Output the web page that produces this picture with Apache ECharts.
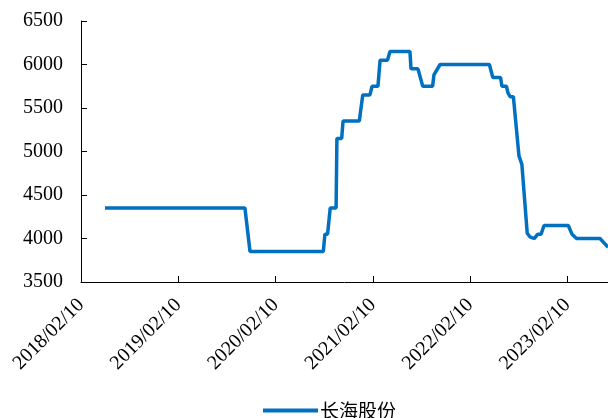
<!DOCTYPE html>
<html>
<head>
<meta charset="utf-8">
<script src="https://cdn.jsdelivr.net/npm/echarts@6/dist/echarts.min.js"></script>
<style>
  html, body { margin: 0; padding: 0; background: #fff; }
  #chart { width: 608px; height: 418px; }
</style>
</head>
<body>
<div id="chart"></div>
<script>
// days counted from 2018/02/10
const days = [90, 615, 634, 909, 915, 925, 935, 957, 960, 978, 983, 1044, 1057, 1084, 1092, 1114, 1122, 1150, 1159, 1234,
  1238, 1264, 1282, 1319, 1324, 1347, 1532, 1545, 1574, 1579, 1596, 1602, 1610, 1622, 1643, 1654, 1674, 1684, 1700,
  1714, 1726, 1737, 1828, 1842, 1859, 1947, 1962, 1977]
const prices = [4350, 4350, 3850, 3850, 4050, 4050, 4350, 4350, 5150, 5150, 5350, 5350, 5650, 5650, 5750, 5750, 6050, 6050, 6150, 6150,
  5950, 5950, 5750, 5750, 5880, 6000, 6000, 5850, 5850, 5750, 5750, 5670, 5630, 5630, 4950, 4850, 4060, 4020, 4000,
  4050, 4050, 4150, 4150, 4050, 4000, 4000, 3950, 3900]
const tickDays = [0, 365, 730, 1095, 1460, 1825]
const tickLabels = ['2018/02/10', '2019/02/10', '2020/02/10', '2021/02/10', '2022/02/10', '2023/02/10']
const seriesName = '长海股份'

const chart = echarts.init(document.getElementById('chart'))
const axisColor = '#000'
const labelFont = { fontFamily: 'Liberation Serif', fontSize: 20, color: '#000' }

chart.setOption({
  animation: false,
  grid: { left: 81, right: 0, top: 21, bottom: 136 },
  legend: {
    left: 258,
    top: 396,
    icon: 'rect',
    itemWidth: 55,
    itemHeight: 4,
    itemGap: 2,
    textStyle: { fontFamily: 'Noto Sans CJK SC', fontSize: 19, color: '#000', padding: [0, 0, 0, -3] },
    data: [seriesName]
  },
  xAxis: {
    type: 'value',
    min: 0,
    max: 1977,
    axisLine: { lineStyle: { color: axisColor, width: 1 } },
    axisTick: { inside: true, length: 6, lineStyle: { color: axisColor }, customValues: tickDays },
    splitLine: { show: false },
    axisLabel: Object.assign({
      rotate: 45,
      margin: 20,
      customValues: tickDays,
      formatter: v => tickLabels[tickDays.indexOf(v)] || ''
    }, labelFont)
  },
  yAxis: {
    type: 'value',
    min: 3500,
    max: 6500,
    interval: 500,
    axisLine: { show: true, lineStyle: { color: axisColor, width: 1 } },
    axisTick: { show: true, inside: true, length: 6, lineStyle: { color: axisColor } },
    splitLine: { show: false },
    axisLabel: Object.assign({ margin: 18, formatter: v => String(v) }, labelFont)
  },
  series: [{
    name: seriesName,
    type: 'line',
    showSymbol: false,
    color: '#0070C0',
    lineStyle: { width: 3.5, color: '#0070C0' },
    data: days.map((d, i) => [d, prices[i]])
  }]
})
</script>
</body>
</html>
